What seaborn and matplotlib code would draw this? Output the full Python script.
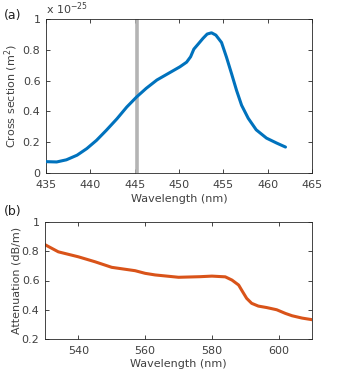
import matplotlib
matplotlib.use("Agg")
import matplotlib.pyplot as plt
import seaborn as sns
import pandas as pd

# (a) absorption cross section, units of 1e-25 m^2
cs_wl = [435, 436.2, 437.3, 438.5, 439.6, 440.7, 441.8, 443, 444.1, 445.2,
         446.3, 447.5, 448.8, 450.1, 450.85, 451.3, 451.67, 452.16, 452.7,
         453.17, 453.66, 454.15, 454.79, 455.35, 455.92, 456.48, 457.05,
         457.8, 458.7, 459.86, 461, 462]
cs_val = [0.073, 0.071, 0.085, 0.115, 0.158, 0.212, 0.277, 0.352, 0.428, 0.493,
          0.55, 0.604, 0.647, 0.69, 0.72, 0.755, 0.805, 0.838, 0.875, 0.903,
          0.911, 0.896, 0.848, 0.752, 0.645, 0.537, 0.44, 0.355, 0.28, 0.226,
          0.194, 0.168]
pump_wl = 445.3

# (b) fibre attenuation
att_wl = [530, 534, 540, 545, 550, 557, 560, 563, 570, 576.4, 580, 584, 586,
          588, 589.2, 590.4, 591.9, 593.9, 596.4, 599.4, 602, 604, 607, 610]
att_val = [0.845, 0.796, 0.762, 0.728, 0.690, 0.667, 0.649, 0.638, 0.622, 0.626,
           0.630, 0.625, 0.603, 0.569, 0.523, 0.478, 0.444, 0.425, 0.415, 0.400,
           0.375, 0.359, 0.343, 0.332]

sns.set_style("ticks")
plt.rcParams['font.family'] = ['DejaVu Sans']
plt.rcParams['font.size'] = 8
txt = '#404040'

fig = plt.figure(figsize=(3.46, 3.75), dpi=100)
ax1 = fig.add_axes([0.133, 0.539, 0.769, 0.410])
ax2 = fig.add_axes([0.130, 0.096, 0.772, 0.312])

df_a = pd.DataFrame({"wl": cs_wl, "cs": cs_val})
df_b = pd.DataFrame({"wl": att_wl, "att": att_val})

ax1.axvline(pump_wl, color='#b4b4b4', lw=2.6, zorder=1)
sns.lineplot(data=df_a, x="wl", y="cs", ax=ax1, color='#0072BD', lw=2.2, zorder=3)
ax1.set_xlim(435, 465)
ax1.set_ylim(0, 1)
ax1.set_xticks([435, 440, 445, 450, 455, 460, 465])
ax1.set_yticks([0, 0.2, 0.4, 0.6, 0.8, 1])
ax1.set_yticklabels(['0', '0.2', '0.4', '0.6', '0.8', '1'])
ax1.set_xlabel("Wavelength (nm)", color=txt, labelpad=3)
ax1.set_ylabel("Cross section (m$^2$)", color=txt, labelpad=2)
ax1.text(0.0, 1.015, r"x 10$^{-25}$", transform=ax1.transAxes, color=txt,
         fontsize=8, ha='left', va='bottom')
fig.text(0.012, 0.96, "(a)", fontsize=9, color='#202020', va='center')

sns.lineplot(data=df_b, x="wl", y="att", ax=ax2, color='#D95319', lw=2.2)
ax2.set_xlim(530, 610)
ax2.set_ylim(0.2, 1)
ax2.set_xticks([540, 560, 580, 600])
ax2.set_yticks([0.2, 0.4, 0.6, 0.8, 1])
ax2.set_yticklabels(['0.2', '0.4', '0.6', '0.8', '1'])
ax2.set_xlabel("Wavelength (nm)", color=txt, labelpad=2)
ax2.set_ylabel("Attenuation (dB/m)", color=txt, labelpad=0)
fig.text(0.012, 0.435, "(b)", fontsize=9, color='#202020', va='center')

for ax in (ax1, ax2):
    ax.tick_params(direction='in', top=True, right=True, length=3, width=0.6,
                   colors='#262626', labelcolor=txt, labelsize=8)
    ax.tick_params(axis='x', pad=5)
    ax.tick_params(axis='y', pad=4)
    for s in ax.spines.values():
        s.set_visible(True)
        s.set_linewidth(0.6)
        s.set_color('#262626')

fig.savefig("out.png", dpi=100)
